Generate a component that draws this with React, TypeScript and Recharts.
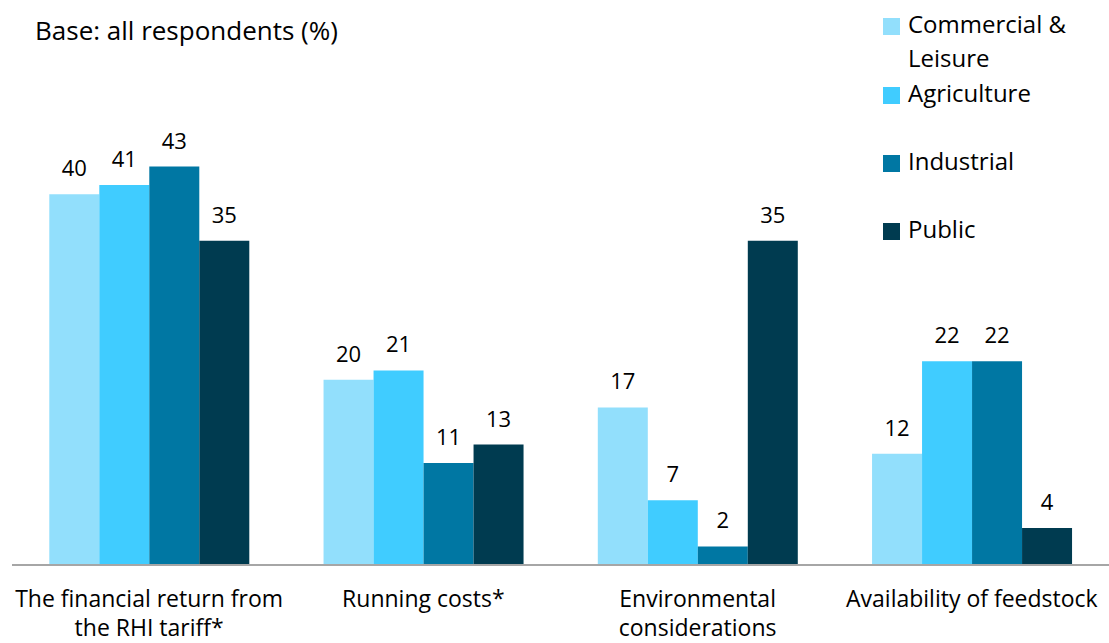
import { BarChart, Bar, XAxis, YAxis, LabelList } from 'recharts'

const categories = ['The financial return from\nthe RHI tariff*', 'Running costs*', 'Environmental\nconsiderations', 'Availability of feedstock']
const commercial = [40, 20, 17, 12]
const agriculture = [41, 21, 7, 22]
const industrial = [43, 11, 2, 22]
const publicSector = [35, 13, 35, 4]

const SERIES = [
  { key: 'commercial', name: 'Commercial &\nLeisure', color: '#92DFFC', values: commercial, y: 25 },
  { key: 'agriculture', name: 'Agriculture', color: '#40CCFF', values: agriculture, y: 94 },
  { key: 'industrial', name: 'Industrial', color: '#0077A3', values: industrial, y: 162 },
  { key: 'public', name: 'Public', color: '#003B50', values: publicSector, y: 230 },
]

const data = categories.map((c, i) => {
  const row: any = { category: c }
  SERIES.forEach((s) => {
    row[s.key] = s.values[i]
  })
  return row
})

const FONT = "'Open Sans', 'Liberation Sans', sans-serif"

function CategoryTick(props: any) {
  const { x, y, payload } = props
  const lines = String(payload.value).split('\n')
  return (
    <text x={x} y={y + 34} textAnchor="middle" fontSize={23} fill="#000" fontFamily={FONT}>
      {lines.map((l, i) => (
        <tspan key={i} x={x} dy={i === 0 ? 0 : 29}>
          {l}
        </tspan>
      ))}
    </text>
  )
}

export default function App() {
  return (
    <div style={{ position: 'absolute', left: 0, top: 0, width: 1109, height: 643, background: '#fff', fontFamily: FONT, overflow: 'hidden' }}>
      <div style={{ position: 'absolute', left: 35, top: 12, fontSize: 26, color: '#000' }}>Base: all respondents (%)</div>
      {SERIES.map((s) => (
        <div key={s.key} style={{ position: 'absolute', left: 883, top: s.y - 13, display: 'flex', alignItems: 'flex-start' }}>
          <div style={{ width: 17, height: 17, background: s.color, marginTop: 6, marginRight: 8 }} />
          <div style={{ fontSize: 24, lineHeight: '34px', whiteSpace: 'pre', color: '#000', marginTop: -5 }}>{s.name}</div>
        </div>
      ))}
      <BarChart
        width={1109}
        height={643}
        data={data}
        margin={{ top: 148, right: 0, left: 12, bottom: 0 }}
        barGap={0}
        barCategoryGap="13.6%"
      >
        <XAxis
          dataKey="category"
          height={78}
          tickLine={false}
          axisLine={{ stroke: '#A6A6A6', strokeWidth: 2 }}
          tick={<CategoryTick />}
          interval={0}
        />
        <YAxis hide domain={[0, 45]} />
        {SERIES.map((s) => (
          <Bar key={s.key} dataKey={s.key} name={s.name} fill={s.color} isAnimationActive={false}>
            <LabelList dataKey={s.key} position="top" offset={18} fontSize={22} fill="#000" fontFamily={FONT} />
          </Bar>
        ))}
      </BarChart>
    </div>
  )
}
